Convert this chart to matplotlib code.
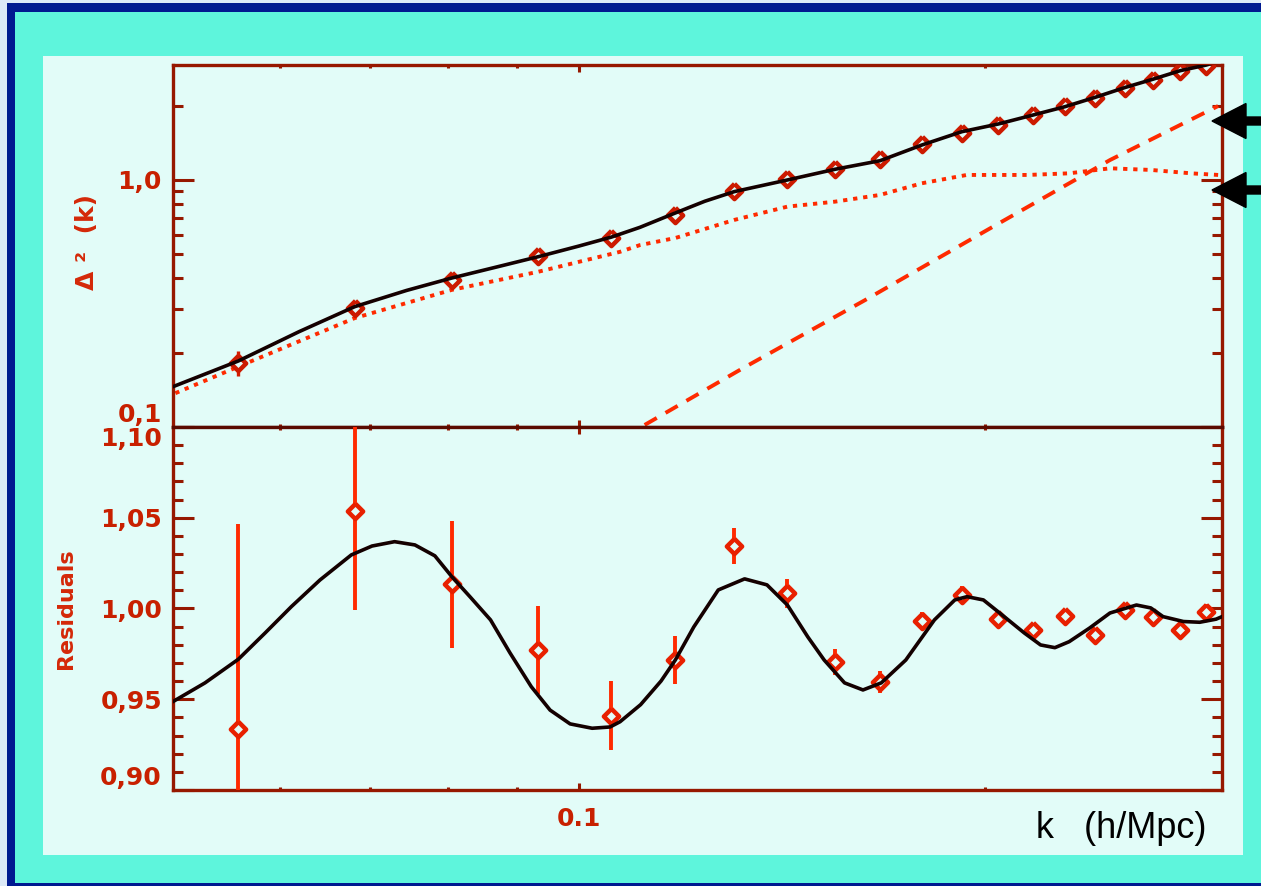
import matplotlib
matplotlib.use('Agg')
import matplotlib.pyplot as plt
from matplotlib.patches import Rectangle, FancyArrow
from matplotlib.ticker import NullFormatter

plt.rcParams['font.family'] = ['DejaVu Sans']
plt.rcParams['font.weight'] = 'bold'

# band powers (k in h/Mpc)
k_data = [0.0559, 0.0682, 0.0805, 0.0933, 0.1057, 0.1179, 0.1304, 0.1428, 0.1549, 0.1673,
          0.1797, 0.1924, 0.2047, 0.2173, 0.2294, 0.2415, 0.2543, 0.2667, 0.2793, 0.2920]
delta2 = [0.182, 0.303, 0.394, 0.492, 0.584, 0.722, 0.905, 1.009, 1.108, 1.216,
          1.398, 1.554, 1.675, 1.833, 1.993, 2.141, 2.351, 2.541, 2.770, 2.900]
delta2_err = [0.021, 0.016, 0.014, 0.012, 0.011, 0.010, 0.009, 0.009, 0.009, 0.009,
              0.008, 0.008, 0.008, 0.008, 0.008, 0.008, 0.008, 0.008, 0.008, 0.008]
resid = [0.9336, 1.0539, 1.0133, 0.9771, 0.9408, 0.9716, 1.0346, 1.0084, 0.9704, 0.9593,
         0.9933, 1.0074, 0.9942, 0.9882, 0.9959, 0.9854, 0.9992, 0.9955, 0.9884, 0.9983]
resid_err = [0.113, 0.055, 0.035, 0.024, 0.019, 0.013, 0.010, 0.008, 0.007, 0.006,
             0.005, 0.005, 0.004, 0.004, 0.004, 0.004, 0.004, 0.004, 0.004, 0.004]

# full model (solid)
k_model = [0.050, 0.0559, 0.0620, 0.0682, 0.0745, 0.0805, 0.0870, 0.0933, 0.1000, 0.1057,
           0.111, 0.1179, 0.1240, 0.1304, 0.1428, 0.1549, 0.1673, 0.1797, 0.1924, 0.2047,
           0.2173, 0.2294, 0.2415, 0.2543, 0.2667, 0.2793, 0.2920, 0.300]
d2_model = [0.1456, 0.185, 0.243, 0.307, 0.357, 0.401, 0.445, 0.489, 0.540, 0.587,
            0.643, 0.735, 0.820, 0.897, 1.000, 1.105, 1.197, 1.386, 1.569, 1.685,
            1.833, 1.980, 2.160, 2.370, 2.560, 2.770, 2.920, 3.050]
# linear part (dotted)
k_lin = [0.0502, 0.0559, 0.0682, 0.0805, 0.0933, 0.1073, 0.111, 0.1179, 0.1304, 0.1428,
         0.1549, 0.1673, 0.1797, 0.1940, 0.2153, 0.2310, 0.2478, 0.2658, 0.2845, 0.2980]
d2_lin = [0.137, 0.1755, 0.276, 0.359, 0.425, 0.512, 0.545, 0.582, 0.689, 0.780,
          0.817, 0.870, 0.970, 1.048, 1.048, 1.064, 1.115, 1.098, 1.064, 1.048]
# shot noise like term (dashed)
k_shot = [0.1119, 0.1323, 0.1631, 0.2009, 0.2478, 0.2980]
d2_shot = [0.1019, 0.1728, 0.3266, 0.6275, 1.205, 1.993]

# residual model curve
k_res = [0.05000, 0.05281, 0.05590, 0.05852, 0.06120, 0.06427, 0.06780, 0.07024, 0.07300, 0.07558,
         0.07820, 0.08050, 0.08307, 0.08600, 0.08891, 0.09220, 0.09521, 0.09852, 0.10230, 0.10548,
         0.10730, 0.11113, 0.11507, 0.11792, 0.12169, 0.12689, 0.13273, 0.13790, 0.14279, 0.14787,
         0.15205, 0.15744, 0.16247, 0.16763, 0.17480, 0.18356, 0.19006, 0.19406, 0.19957, 0.20521,
         0.21401, 0.22005, 0.22549, 0.23106, 0.23925, 0.24774, 0.25920, 0.26561, 0.27126, 0.28087,
         0.28880, 0.29695, 0.30000]
res_model = [0.9487, 0.9590, 0.9720, 0.9865, 1.0010, 1.0157, 1.0295, 1.0344, 1.0368, 1.0350,
             1.0290, 1.0175, 1.0063, 0.9937, 0.9755, 0.9569, 0.9440, 0.9364, 0.9340, 0.9347,
             0.9376, 0.9470, 0.9600, 0.9716, 0.9898, 1.0102, 1.0163, 1.0130, 1.0019, 0.9843,
             0.9716, 0.9590, 0.9551, 0.9590, 0.9716, 0.9937, 1.0047, 1.0065, 1.0047, 0.9975,
             0.9865, 0.9799, 0.9784, 0.9817, 0.9892, 0.9975, 1.0019, 1.0003, 0.9955, 0.9928,
             0.9924, 0.9941, 0.9955]

RED = '#ff2a00'
AXRED = '#961800'
LBLRED = '#c82000'
PANEL = '#e2fcf8'
diamond = [(0, 1), (1, 0), (0, -1), (-1, 0), (0, 1)]

fig = plt.figure(figsize=(12.61, 8.86), dpi=100)
fig.set_facecolor('#dce9f7')

# slide background (inches from lower left)
fig.add_artist(Rectangle((0.07, 0.0), 12.6, 8.83, transform=fig.dpi_scale_trans,
                         facecolor='#001a90', edgecolor='none', zorder=-10))
fig.add_artist(Rectangle((0.15, 0.03), 12.5, 8.71, transform=fig.dpi_scale_trans,
                         facecolor='#5ef5dc', edgecolor='none', zorder=-9))
fig.add_artist(Rectangle((0.43, 0.31), 12.0, 7.99, transform=fig.dpi_scale_trans,
                         facecolor=PANEL, edgecolor='none', zorder=-8))

ax1 = fig.add_axes([0.1372, 0.5181, 0.8319, 0.4085])
ax2 = fig.add_axes([0.1372, 0.1084, 0.8319, 0.4097])

# --- top: Delta^2(k)
ax1.plot(k_lin, d2_lin, color=RED, lw=2.8, linestyle=(0, (1.1, 1.5)), zorder=2)
ax1.plot(k_shot, d2_shot, color=RED, lw=2.8, linestyle=(0, (3.6, 2.6)), zorder=2)
ax1.errorbar(k_data, delta2, yerr=delta2_err, fmt='none', ecolor='#d41c00', elinewidth=2.4, zorder=3)
ax1.plot(k_data, delta2, linestyle='none', marker=diamond, ms=11, mew=3.2,
         mec='#cc1a00', mfc=PANEL, zorder=3)
ax1.plot(k_model, d2_model, color='#140000', lw=2.6, zorder=4)
ax1.set_xscale('log')
ax1.set_yscale('log')
ax1.set_xlim(0.05, 0.3)
ax1.set_ylim(0.1, 2.92)

# --- bottom: residuals
ax2.errorbar(k_data, resid, yerr=resid_err, fmt='none', ecolor=RED, elinewidth=2.8, zorder=3)
ax2.plot(k_data, resid, linestyle='none', marker=diamond, ms=11, mew=3.2,
         mec='#e82000', mfc=PANEL, zorder=3)
ax2.plot(k_res, res_model, color='#140000', lw=2.6, zorder=4)
ax2.set_xscale('log')
ax2.set_xlim(0.05, 0.3)
ax2.set_ylim(0.90, 1.10)

for ax in (ax1, ax2):
    ax.set_facecolor(PANEL)
    for s in ax.spines.values():
        s.set_color(AXRED)
        s.set_linewidth(2.4)
    ax.set_xticks([0.1])
    ax.set_xticks([0.06, 0.07, 0.08, 0.09, 0.2], minor=True)
    ax.xaxis.set_minor_formatter(NullFormatter())
    ax.tick_params(which='both', direction='in', top=True, right=True,
                   color=AXRED, labelcolor=LBLRED, labelsize=18, width=2.2)
    ax.tick_params(axis='y', which='major', length=15, pad=8)
    ax.tick_params(axis='y', which='minor', length=7.5)
    ax.tick_params(axis='x', which='major', length=5, pad=12)
    ax.tick_params(axis='x', which='minor', length=2.5)

ax1.spines['bottom'].set_color('#5a0a00')
ax2.spines['top'].set_color('#5a0a00')

ax1.set_xticklabels([''])
ax2.set_xticklabels(['0.1'])

ax1.set_yticks([0.1, 1.0], labels=['0,1', '1,0'])
ax1.set_yticks([0.2, 0.3, 0.4, 0.5, 0.6, 0.7, 0.8, 0.9, 2.0], minor=True)
ax1.yaxis.set_minor_formatter(NullFormatter())
ax1.yaxis.get_major_ticks()[0].label1.set_va('bottom')

ax2.set_yticks([0.90, 0.95, 1.00, 1.05, 1.10], labels=['0,90', '0,95', '1,00', '1,05', '1,10'])
ax2.set_yticks([0.90 + 0.01 * i for i in range(21)], minor=True)
ax2.yaxis.set_minor_formatter(NullFormatter())
ax2.yaxis.get_major_ticks()[0].label1.set_va('bottom')
ax2.yaxis.get_major_ticks()[-1].label1.set_va('top')

# axis titles
ax1.text(-0.082, 0.51, 'Δ ²  (k)', transform=ax1.transAxes, rotation=90,
         ha='center', va='center', fontsize=18, color='#d42808')
ax2.text(-0.102, 0.50, 'Residuals', transform=ax2.transAxes, rotation=90,
         ha='center', va='center', fontsize=16, color='#d42808')
fig.text(1036 / 1261, 1 - 838 / 886, 'k   (h/Mpc)', family='Liberation Sans',
         weight='normal', fontsize=26, color='black', ha='left', va='baseline')

# arrows at the right edge
for y_in in (7.65, 6.96):
    fig.add_artist(FancyArrow(12.9, y_in, -0.78, 0, width=0.08, head_width=0.35,
                              head_length=0.34, length_includes_head=True,
                              transform=fig.dpi_scale_trans, color='black', zorder=5))

fig.savefig('out.png', dpi=100, facecolor=fig.get_facecolor())
